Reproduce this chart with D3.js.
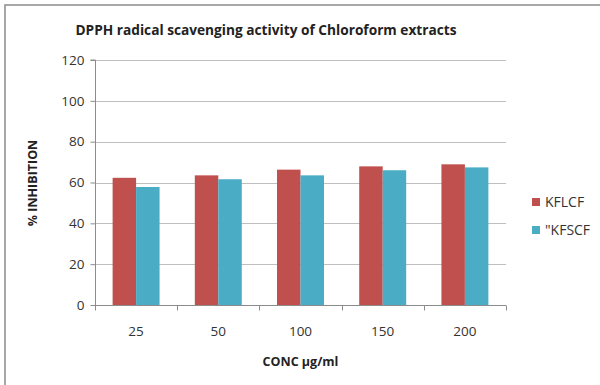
<!DOCTYPE html>
<html>
<head>
<meta charset="utf-8">
<script src="https://cdn.jsdelivr.net/npm/d3@7"></script>
<style>
  body { margin: 0; background: #fff; }
  text { font-family: "Open Sans", "Noto Sans", sans-serif; fill: #222; }
  .title { font-size: 13.7px; font-weight: bold; }
  .axisTitle { font-size: 12.5px; font-weight: bold; }
  .tickLabel { font-size: 13.5px; fill: #333; }
  .legendLabel { font-size: 14px; fill: #333; }
</style>
</head>
<body>
<script>
//Chart data
const concentrations = ['25', '50', '100', '150', '200'];
const seriesNames = ['KFLCF', '"KFSCF'];
const kflcf = [62.3, 63.5, 66.3, 67.9, 68.9];
const kfscf = [57.8, 61.6, 63.5, 66.0, 67.4];
const yTicks = [0, 20, 40, 60, 80, 100, 120];
const colours = ['#C0504D', '#4BACC6'];

const width = 600;
const height = 385;

const margin = {
    top: 60,
    right: 94,
    bottom: 80,
    left: 95
};

const svg = d3.select('body').append('svg')
    .attr('width', width)
    .attr('height', height);

//Outer border of the chart box
svg.append('rect')
    .attr('x', 5)
    .attr('y', 5)
    .attr('width', width + 10)
    .attr('height', height + 10)
    .style('fill', 'none')
    .style('stroke', '#8c8c8c')
    .style('stroke-width', 1.5);

//Scales
let x = d3.scaleBand()
    .domain(concentrations)
    .range([margin.left, width - margin.right]);

let x1 = d3.scaleBand()
    .domain(seriesNames)
    .range([0, x.bandwidth()])
    .paddingOuter(0.75);

let y = d3.scaleLinear()
    .domain([0, 120])
    .range([height - margin.bottom, margin.top]);

//Gridlines
svg.selectAll('line.grid')
    .data(yTicks.filter(d => d > 0))
    .enter()
    .append('line')
    .attr('class', 'grid')
    .attr('x1', margin.left)
    .attr('x2', width - margin.right)
    .attr('y1', d => Math.round(y(d)) + 0.5)
    .attr('y2', d => Math.round(y(d)) + 0.5)
    .style('stroke', '#bfbfbf')
    .style('stroke-width', 1);

//Bars
let rows = concentrations.map((c, i) => ({conc: c, values: [kflcf[i], kfscf[i]]}));

svg.selectAll('g.group')
    .data(rows)
    .enter()
    .append('g')
    .attr('class', 'group')
    .attr('transform', d => `translate(${x(d.conc)},0)`)
    .selectAll('rect')
    .data(d => d.values.map((v, j) => ({name: seriesNames[j], value: v, colour: colours[j]})))
    .enter()
    .append('rect')
    .attr('x', d => x1(d.name))
    .attr('width', x1.bandwidth())
    .attr('y', d => y(d.value))
    .attr('height', d => y(0) - y(d.value))
    .style('fill', d => d.colour);

//Y axis
let yAxis = d3.axisLeft(y)
    .tickValues(yTicks)
    .tickSize(5)
    .tickPadding(6);

let yG = svg.append('g')
    .attr('transform', `translate(${margin.left + 0.5},0)`)
    .call(yAxis);
yG.select('.domain').style('stroke', '#8c8c8c').attr('d', `M-5,${y(120)}H0V${y(0)}`);
yG.selectAll('.tick line').style('stroke', '#8c8c8c');
yG.selectAll('.tick text').attr('class', 'tickLabel').style('font-family', null).style('font-size', null);
yG.attr('font-family', null).attr('font-size', null);

//X axis with ticks between categories
let xG = svg.append('g')
    .attr('transform', `translate(0,${Math.round(y(0)) + 0.5})`);

xG.append('line')
    .attr('x1', margin.left)
    .attr('x2', width - margin.right)
    .style('stroke', '#8c8c8c');

let boundaries = concentrations.map(c => x(c)).concat([x(concentrations[concentrations.length - 1]) + x.bandwidth()]);

xG.selectAll('line.tick')
    .data(boundaries)
    .enter()
    .append('line')
    .attr('class', 'tick')
    .attr('x1', d => Math.round(d) + 0.5)
    .attr('x2', d => Math.round(d) + 0.5)
    .attr('y1', 0)
    .attr('y2', 5)
    .style('stroke', '#8c8c8c');

xG.selectAll('text.tickLabel')
    .data(concentrations)
    .enter()
    .append('text')
    .attr('class', 'tickLabel')
    .attr('x', d => x(d) + x.bandwidth() / 2)
    .attr('y', 30)
    .style('text-anchor', 'middle')
    .text(d => d);

//Titles
svg.append('text')
    .attr('class', 'title')
    .attr('x', 266)
    .attr('y', 35)
    .style('text-anchor', 'middle')
    .text('DPPH radical scavenging activity of Chloroform extracts');

svg.append('text')
    .attr('class', 'axisTitle')
    .attr('transform', `translate(37,183) rotate(-90)`)
    .style('text-anchor', 'middle')
    .text('% INHIBITION');

svg.append('text')
    .attr('class', 'axisTitle')
    .attr('x', (margin.left + width - margin.right) / 2)
    .attr('y', 366)
    .style('text-anchor', 'middle')
    .text('CONC µg/ml');

//Legend
let legend = svg.selectAll('g.legend')
    .data(seriesNames)
    .enter()
    .append('g')
    .attr('class', 'legend')
    .attr('transform', (d, i) => `translate(532,${198 + i * 28})`);

legend.append('rect')
    .attr('width', 8)
    .attr('height', 8)
    .style('fill', (d, i) => colours[i]);

legend.append('text')
    .attr('class', 'legendLabel')
    .attr('x', 13)
    .attr('y', 9)
    .text(d => d);
</script>
</body>
</html>
